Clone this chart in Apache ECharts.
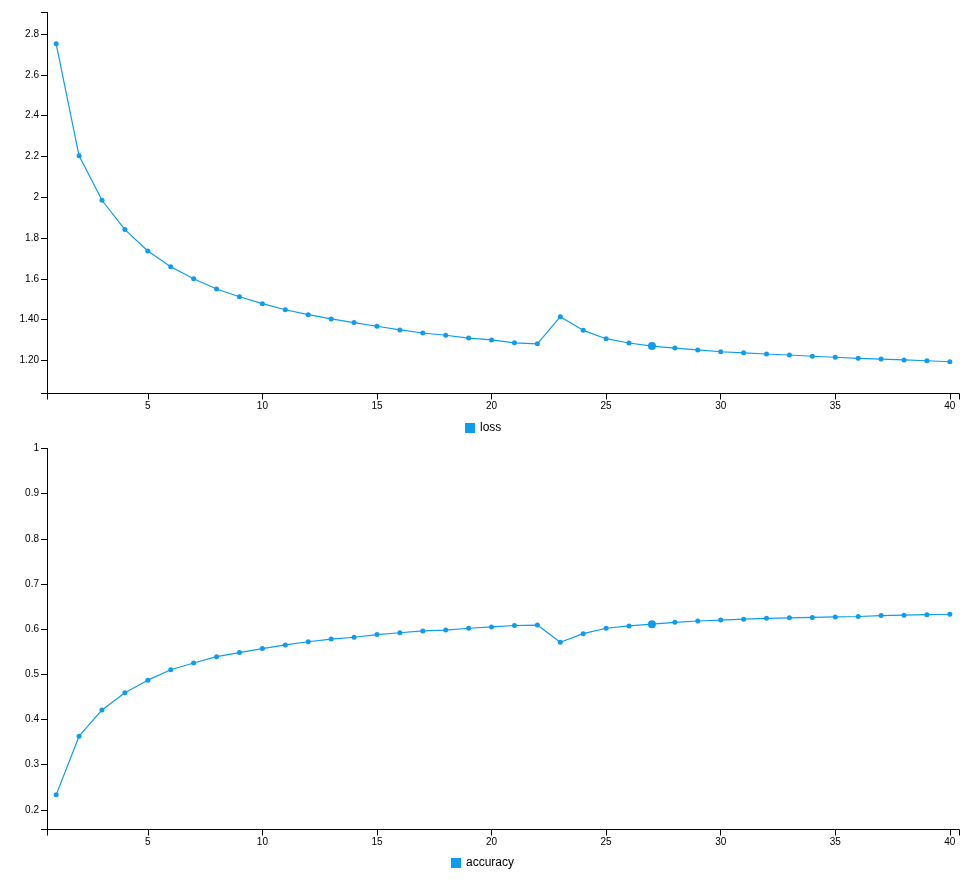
<!DOCTYPE html>
<html>
<head>
<meta charset="utf-8">
<script src="https://cdn.jsdelivr.net/npm/echarts@6/dist/echarts.min.js"></script>
<style>
html,body{margin:0;padding:0;background:#fff;}
#chart{width:980px;height:888px;}
</style>
</head>
<body>
<div id="chart"></div>
<script>
const epochs = [1,2,3,4,5,6,7,8,9,10,11,12,13,14,15,16,17,18,19,20,21,22,23,24,25,26,27,28,29,30,31,32,33,34,35,36,37,38,39,40];
const lossValues = [2.752,2.203,1.985,1.841,1.736,1.659,1.600,1.550,1.512,1.478,1.448,1.424,1.403,1.385,1.367,1.349,1.334,1.323,1.309,1.300,1.286,1.281,1.414,1.347,1.306,1.285,1.270,1.260,1.251,1.242,1.237,1.231,1.226,1.220,1.215,1.210,1.206,1.202,1.198,1.193];
const accuracyValues = [0.233,0.363,0.421,0.459,0.487,0.510,0.525,0.539,0.548,0.557,0.565,0.572,0.578,0.582,0.588,0.592,0.596,0.598,0.602,0.605,0.608,0.609,0.571,0.590,0.602,0.607,0.611,0.615,0.618,0.620,0.622,0.624,0.625,0.626,0.627,0.628,0.630,0.631,0.632,0.633];
const xTickValues = [5,10,15,20,25,30,35,40];
const lossTickValues = [1.2,1.4,1.6,1.8,2,2.2,2.4,2.6,2.8];
const lossTickLabels = ['1.20','1.40','1.6','1.8','2','2.2','2.4','2.6','2.8'];
const accTickValues = [0.2,0.3,0.4,0.5,0.6,0.7,0.8,0.9,1];
const accTickLabels = ['0.2','0.3','0.4','0.5','0.6','0.7','0.8','0.9','1'];
const highlightEpoch = 27;
const seriesNames = ['loss','accuracy'];

const color = '#0d9cf0';
const xMin = 0.6, xMax = 40.4;
const lossMin = 1.0373, lossMax = 2.9057;
const accMin = 0.1563, accMax = 1;

function build(vals){
  return epochs.map((e,i)=> e===highlightEpoch ? {value:[e,vals[i]], symbolSize:8} : [e,vals[i]]);
}
function labelFor(values, labels){
  return function(v){
    for (let i=0;i<values.length;i++){ if (Math.abs(values[i]-v) < 1e-6) return labels[i]; }
    return '';
  };
}
const axisLine = {show:true, onZero:false, lineStyle:{color:'#000', width:1}};
const labelStyle = {color:'#000', fontSize:10, fontFamily:'Liberation Sans, Arial, sans-serif'};

function xAxis(gi){
  return {
    type:'value', gridIndex:gi, min:xMin, max:xMax,
    axisLine: axisLine,
    axisTick:{show:true, length:6, lineStyle:{color:'#000'}, customValues:[xMin].concat(xTickValues, [xMax])},
    axisLabel:Object.assign({margin:8, customValues:xTickValues, formatter:(v)=>String(v)}, labelStyle),
    splitLine:{show:false}
  };
}
function yAxis(gi, mn, mx, tv, tl){
  return {
    type:'value', gridIndex:gi, min:mn, max:mx,
    axisLine: axisLine,
    axisTick:{show:true, length:6, lineStyle:{color:'#000'}, customValues:[mn].concat(tv, [mx])},
    axisLabel:Object.assign({margin:8, customValues:tv, formatter:labelFor(tv, tl)}, labelStyle),
    splitLine:{show:false}
  };
}

const chart = echarts.init(document.getElementById('chart'), null, {renderer:'canvas'});
chart.setOption({
  animation:false,
  backgroundColor:'#fff',
  grid:[
    {left:47, right:21, top:12.5, height:381},
    {left:47, right:21, top:448.5, height:381}
  ],
  xAxis:[xAxis(0), xAxis(1)],
  yAxis:[
    yAxis(0, lossMin, lossMax, lossTickValues, lossTickLabels),
    yAxis(1, accMin, accMax, accTickValues, accTickLabels)
  ],
  legend:[
    {data:[seriesNames[0]], left:465, top:422, padding:0, itemWidth:10, itemHeight:10, icon:'rect',
     textStyle:{color:'#000', fontSize:12, fontFamily:'Liberation Sans, Arial, sans-serif'}},
    {data:[seriesNames[1]], left:451, top:857, padding:0, itemWidth:10, itemHeight:10, icon:'rect',
     textStyle:{color:'#000', fontSize:12, fontFamily:'Liberation Sans, Arial, sans-serif'}}
  ],
  series:[
    {name:seriesNames[0], type:'line', xAxisIndex:0, yAxisIndex:0, data:build(lossValues),
     symbol:'circle', symbolSize:5, showAllSymbol:true, color:color,
     lineStyle:{color:color, width:1.2}, itemStyle:{color:color}},
    {name:seriesNames[1], type:'line', xAxisIndex:1, yAxisIndex:1, data:build(accuracyValues),
     symbol:'circle', symbolSize:5, showAllSymbol:true, color:color,
     lineStyle:{color:color, width:1.2}, itemStyle:{color:color}}
  ]
});
</script>
</body>
</html>
